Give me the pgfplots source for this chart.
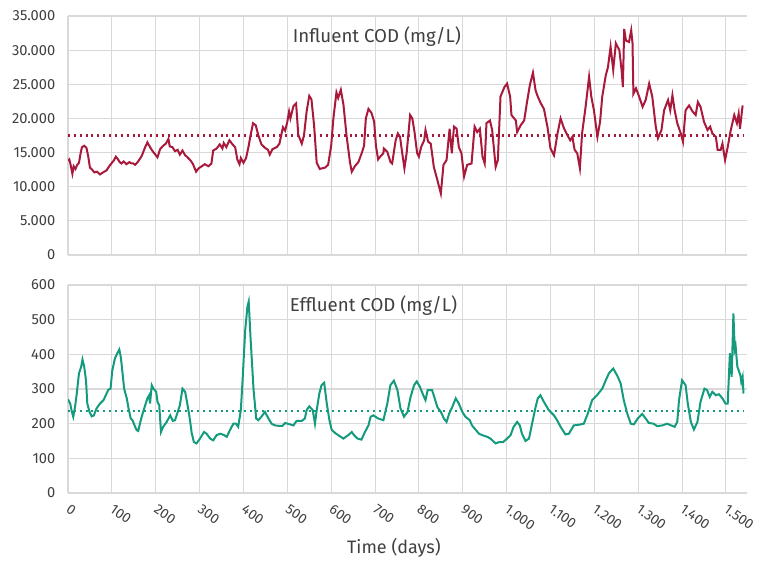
\documentclass[border=0pt]{standalone}
\usepackage{fontspec}
\setmainfont{Fira Sans}
\usepackage{pgfplots}
\pgfplotsset{compat=1.18}

\definecolor{infl}{RGB}{168,25,60}
\definecolor{effl}{RGB}{20,155,125}
\definecolor{gridgray}{RGB}{217,217,217}
\definecolor{txt}{RGB}{64,64,64}

\pgfplotsset{
  codaxis/.style={
    scale only axis,
    width=509.25pt,
    xmin=0, xmax=1548,
    xtick={0,100,...,1500},
    axis x line=bottom, axis y line=left,
    axis line style={gridgray, line width=1pt, -},
    grid=major,
    major grid style={gridgray, line width=0.8pt},
    major tick length=0pt,
    clip mode=individual,
    scaled y ticks=false,
    tick label style={font=\fontsize{10.5}{12}\selectfont, text=txt},
    yticklabel style={font=\fontsize{11}{12}\selectfont, xshift=-6pt},
    /pgf/number format/.cd, 1000 sep={.}, assume math mode=true,
  },
}

\begin{document}
\begin{tikzpicture}
\useasboundingbox (0pt,0pt) rectangle (576pt,-425.25pt);

% influent
\begin{axis}[codaxis,
  at={(51pt,-191.25pt)}, anchor=south west,
  height=179.25pt,
  ymin=0, ymax=35000,
  ytick={0,5000,...,35000},
  xticklabels={},
]
\addplot[infl, line width=1.5pt] coordinates {
(0,13800)(3,14000)(6,13200)(10,11900)(13,13000)(17,12600)(21,13200)(25,13500)(29,15000)(32,15800)(37,16000)(42,15700)(46,14500)(50,12800)(55,12500)(60,12100)(66,12200)(73,11800)(80,12100)(88,12400)(94,13000)(100,13500)(104,13800)(109,14400)(114,14000)(118,13600)(122,13400)(127,13700)(133,13300)(140,13600)(145,13400)(149,13400)(153,13200)(160,13700)(168,14500)(176,15800)(181,16500)(187,15800)(193,15200)(198,14800)(204,14300)(210,15500)(217,16000)(223,16300)(229,17000)(232,15900)(238,15800)(244,15200)(250,15400)(255,14700)(261,15300)(267,14600)(271,14400)(280,13800)(285,13300)(292,12200)(298,12700)(305,13000)(312,13300)(320,13000)(327,13400)(331,15300)(339,15600)(346,16200)(352,15600)(355,16400)(361,15800)(368,16800)(375,16200)(381,15800)(386,14000)(391,13300)(394,14200)(400,13500)(406,14200)(412,16000)(416,17500)(422,19300)(428,19000)(434,17500)(441,16200)(449,15700)(456,15400)(460,14700)(466,15500)(476,15800)(482,16300)(486,17500)(490,18700)(495,18200)(500,19500)(504,21000)(507,20000)(514,21800)(520,22200)(525,17600)(533,16300)(538,17500)(544,21000)(550,23300)(555,22800)(561,19000)(567,13500)(574,12600)(586,12800)(593,13200)(600,16000)(605,20000)(612,23800)(616,23000)(622,24200)(628,22000)(635,17500)(643,13500)(647,12200)(654,13000)(662,13600)(669,14800)(675,16000)(679,20000)(685,21400)(692,20800)(698,19500)(702,16000)(707,14000)(713,14500)(719,14900)
(720,15600)(728,15100)(735,13650)(739,13400)(747,16800)(752,17800)(757,17300)(762,14900)(767,12700)(772,14900)(780,20500)(785,20000)(790,18000)(796,14900)(800,14400)(805,15800)(812,16800)(815,18300)(821,16600)(827,16300)(834,12900)(842,11000)(850,9000)(856,13200)(863,13900)(870,18500)(875,14900)(880,18800)(886,18500)(891,15800)(897,14900)(903,11500)(910,13200)(920,13400)(927,18800)(933,18000)(939,18500)(945,14400)(950,13400)(954,19300)(962,19700)(967,18300)(975,12900)(980,13900)(986,23200)(995,24600)(1001,25100)(1008,23200)(1011,20500)(1021,19700)(1024,18000)(1032,19000)(1040,19700)(1046,22200)(1053,24900)(1060,26700)(1066,24100)(1071,23200)(1078,22200)(1085,21400)(1093,18800)(1100,15600)(1108,14600)(1116,17800)(1123,20000)(1131,18500)(1138,17600)(1145,16800)(1150,17300)(1155,15400)(1161,14900)(1167,12700)(1172,17800)(1180,21700)(1188,26100)(1193,23200)(1199,21200)(1207,17300)(1213,19500)(1218,23200)(1226,26300)(1231,27500)(1237,30500)(1243,27100)(1249,31000)(1257,30000)(1262,27100)(1265,24600)(1268,33100)(1272,31400)(1279,31200)(1284,32900)(1287,31000)(1289,23600)(1295,24400)(1302,23200)(1310,21700)(1317,22700)(1325,25100)(1332,23200)(1340,18800)(1345,17100)(1353,18300)(1359,21200)(1368,22700)(1373,21200)(1378,23400)(1383,21200)(1389,19300)(1397,17800)(1402,16600)(1408,21200)(1416,21900)(1424,21000)(1431,20500)(1436,22400)(1442,21700)(1450,19500)(1458,18300)(1464,18800)(1469,17800)(1477,17300)(1481,15400)(1488,15400)(1492,16300)(1498,13900)(1504,15800)(1511,18300)(1519,20500)(1525,19300)(1529,20700)(1532,18500)(1538,21900)
};
\addplot[infl, line width=1.6pt, dash pattern=on 1.5pt off 2.9pt] coordinates {(0,17500)(1540,17500)};
\node[font=\fontsize{14}{16}\selectfont, text=txt] at (rel axis cs:0.455,0.912) {Influent COD (mg/L)};
\end{axis}

% effluent
\begin{axis}[codaxis,
  at={(51pt,-369.75pt)}, anchor=south west,
  height=156pt,
  ymin=0, ymax=600,
  ytick={0,100,...,600},
  xticklabel style={xshift=2pt, yshift=-8pt, rotate=-35, anchor=north west, inner sep=0pt},
]
\addplot[effl, line width=1.5pt] coordinates {
(0,270)(5,258)(8,239)(12,220)(16,248)(20,287)(25,345)(30,364)(33,385)(37,364)(41,325)(44,258)(49,234)(54,221)(59,224)(65,244)(73,258)(81,268)(88,287)(92,298)(97,301)(101,354)(107,388)(112,402)(117,414)(120,395)(122,374)(128,301)(134,273)(138,244)(143,215)(147,210)(153,191)(157,181)(160,179)(168,220)(176,253)(181,273)(185,282)(187,258)(191,311)(195,301)(201,292)(204,263)(208,253)(212,176)(217,191)(225,205)(233,224)(239,208)(244,210)(249,229)(255,253)(261,301)(267,292)(272,258)(277,220)(282,173)(287,147)(293,143)(301,157)(310,176)(316,171)(324,157)(331,152)(339,167)(347,171)(356,167)(362,162)(369,181)(377,200)(383,200)(388,191)(394,239)(398,325)(404,470)(409,537)(412,552)(416,451)(423,299)(429,215)(434,210)(441,220)(449,234)(457,215)(464,200)(472,195)(479,194)(489,194)(495,202)(506,198)(514,195)(521,208)(533,208)(540,215)(544,239)(550,250)(558,239)(563,200)(567,239)(573,287)(578,311)(584,318)(590,258)(596,210)(601,183)(609,173)(616,167)(628,157)(639,167)(647,176)(652,167)(660,157)(669,154)(677,176)(685,195)(690,220)(696,224)(707,215)(719,210)
(728,258)(735,311)(743,324)(751,297)(758,244)(766,220)(774,234)(781,277)(789,311)(795,322)(802,307)(810,282)(815,268)(820,297)(830,297)(836,273)(842,248)(850,234)(857,215)(863,205)(869,229)(876,248)(884,273)(891,258)(899,234)(906,220)(916,210)(921,195)(929,183)(937,171)(944,167)(956,162)(963,157)(975,143)(983,147)(992,147)(1001,157)(1009,167)(1016,191)(1024,205)(1030,195)(1035,171)(1043,150)(1051,157)(1058,200)(1066,248)(1071,273)(1077,282)(1085,263)(1096,239)(1108,224)(1115,210)(1123,191)(1134,169)(1142,171)(1153,195)(1165,197)(1176,200)(1185,229)(1195,268)(1206,282)(1218,301)(1226,325)(1233,345)(1243,359)(1252,339)(1260,316)(1267,268)(1275,229)(1283,200)(1290,198)(1299,215)(1309,228)(1317,215)(1324,202)(1335,200)(1343,193)(1355,195)(1366,200)(1375,195)(1383,191)(1389,205)(1393,268)(1400,325)(1408,311)(1413,258)(1420,205)(1427,183)(1435,205)(1442,263)(1451,301)(1457,297)(1463,277)(1469,292)(1477,282)(1484,285)(1492,273)(1499,258)(1504,258)(1509,403)(1513,335)(1517,518)(1520,414)(1522,424)(1526,364)(1529,354)(1533,339)(1535,320)(1538,335)(1540,287)
};
\addplot[effl, line width=1.6pt, dash pattern=on 1.5pt off 2.9pt] coordinates {(0,237)(1540,237)};
\node[font=\fontsize{14}{16}\selectfont, text=txt] at (rel axis cs:0.45,0.90) {Effluent COD (mg/L)};
\node[font=\fontsize{13.5}{16}\selectfont, text=txt] at (rel axis cs:0.48,-0.264) {Time (days)};
\end{axis}
\end{tikzpicture}
\end{document}
